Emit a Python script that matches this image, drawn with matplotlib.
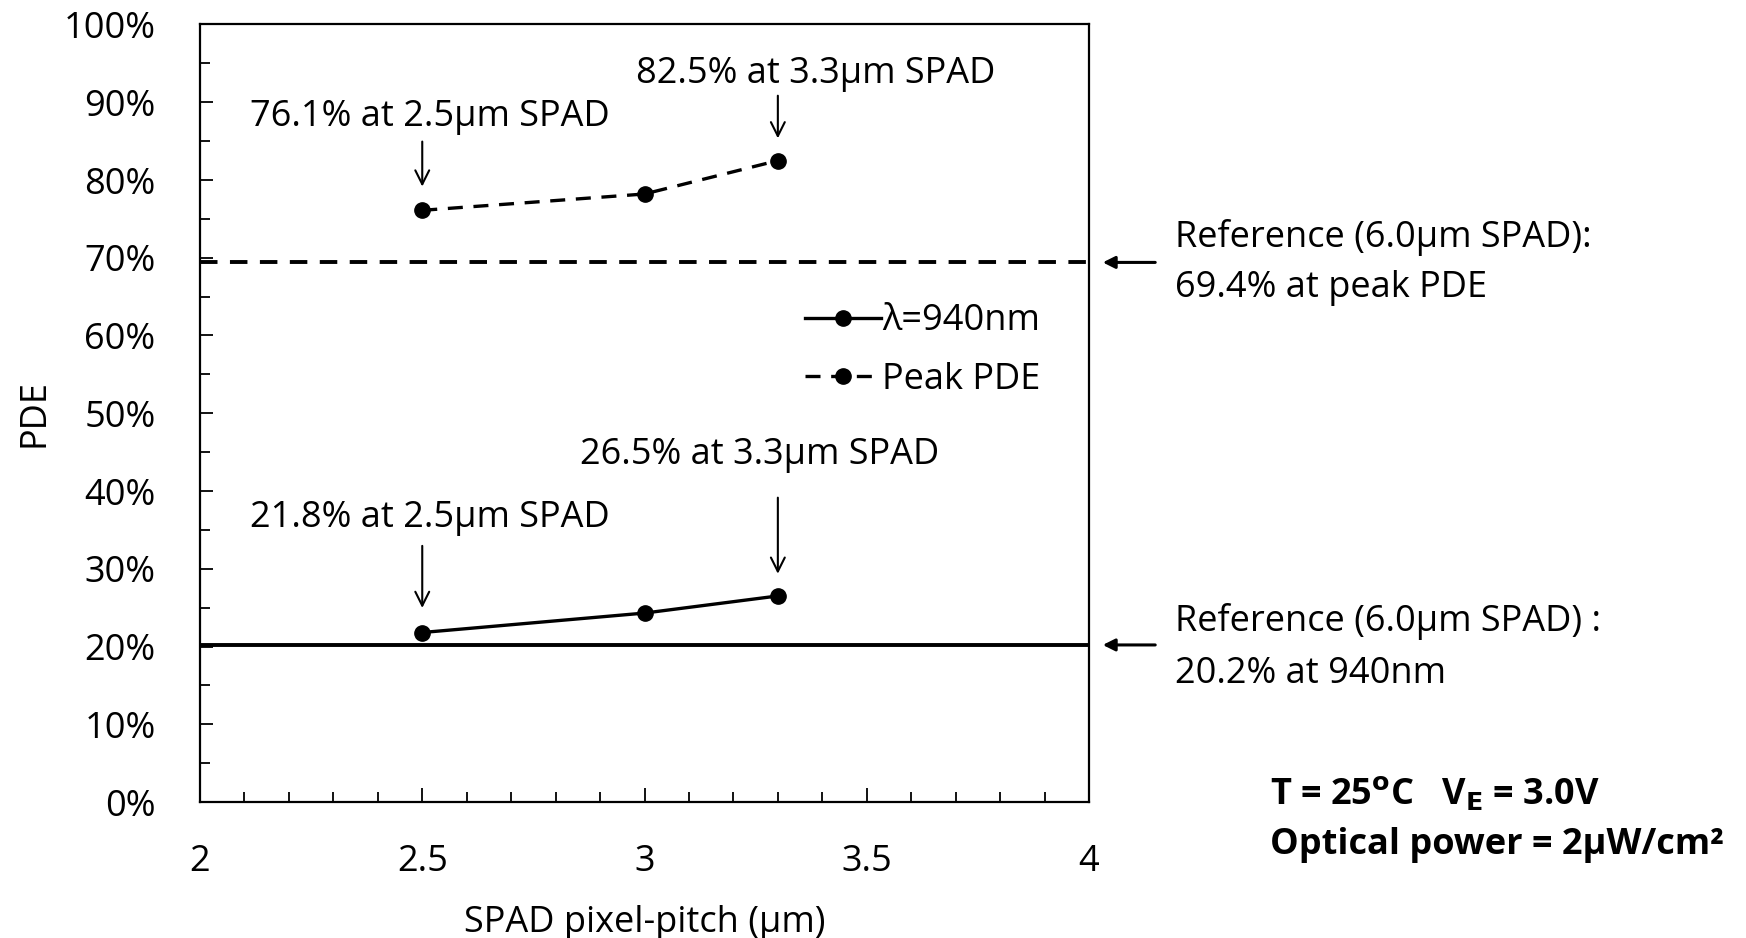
import matplotlib
matplotlib.use("Agg")
import matplotlib.pyplot as plt
from matplotlib.ticker import MultipleLocator, FuncFormatter

plt.rcParams['font.family'] = ['Open Sans', 'DejaVu Sans']

pitch = [2.5, 3.0, 3.3]
pde_940 = [21.8, 24.3, 26.5]
pde_peak = [76.1, 78.2, 82.5]
ref_940 = 20.2
ref_peak = 69.4

x_ticks = [2, 2.5, 3, 3.5, 4]
y_ticks = [0, 10, 20, 30, 40, 50, 60, 70, 80, 90, 100]

fig = plt.figure(figsize=(17.46, 9.38), dpi=100)
ax = fig.add_axes([200/1746, 1-802/938, (1089-200)/1746, (802-24.5)/938])

FS = 26

ax.axhline(ref_peak, color='black', lw=2.8, dashes=(4.5, 3.2))
ax.axhline(ref_940, color='black', lw=2.8)
ax.plot(pitch, pde_940, color='black', lw=2.4, marker='o', ms=11, label='λ=940nm')
ax.plot(pitch, pde_peak, color='black', lw=2.4, marker='o', ms=11, dashes=(4.5, 3.2), label='Peak PDE')

ax.set_xlim(2, 4)
ax.set_ylim(0, 100)
ax.set_xticks(x_ticks)
ax.set_yticks(y_ticks)
ax.xaxis.set_minor_locator(MultipleLocator(0.1))
ax.yaxis.set_minor_locator(MultipleLocator(5))
ax.xaxis.set_major_formatter(FuncFormatter(lambda v, p: f"{v:g}"))
ax.yaxis.set_major_formatter(FuncFormatter(lambda v, p: f"{v:.0f}%"))
ax.tick_params(axis='both', which='both', direction='in', width=1.3, labelsize=FS)
ax.tick_params(axis='x', which='major', length=10, pad=30)
ax.tick_params(axis='x', which='minor', length=7)
ax.tick_params(axis='y', which='major', length=9, pad=32)
ax.tick_params(axis='y', which='minor', length=7)
for s in ax.spines.values():
    s.set_linewidth(1.6)

ax.set_xlabel('SPAD pixel-pitch (µm)', fontsize=FS, labelpad=18)
ax.set_ylabel('PDE', fontsize=FS, labelpad=8)

leg = ax.legend(loc='upper left', bbox_to_anchor=(0.664, 0.66), frameon=False,
                fontsize=FS, handlelength=2.1, handletextpad=0.05, labelspacing=0.62,
                borderaxespad=0)

arrow_kw = dict(arrowstyle='->', color='black', lw=1.5, mutation_scale=25)
annots = [
    ("76.1% at 2.5µm SPAD", 2.5, 76.1, 2.113, 88.1, 85.3, 78.8),
    ("82.5% at 3.3µm SPAD", 3.3, 82.5, 2.98, 93.6, 91.2, 85.0),
    ("26.5% at 3.3µm SPAD", 3.3, 26.5, 2.855, 44.6, 39.5, 29.0),
    ("21.8% at 2.5µm SPAD", 2.5, 21.8, 2.113, 36.5, 33.3, 24.6),
]
for txt, xv, yv, tx, ty, y0, y1 in annots:
    ax.text(tx, ty, txt, fontsize=FS, va='center', ha='left')
    ax.annotate('', xy=(xv, y1), xytext=(xv, y0), arrowprops=arrow_kw)

# right side annotations in figure pixels
def fx(px):
    return px / 1746
def fy(py):
    return 1 - py / 938

ref_arrow = dict(arrowstyle='-|>', color='black', lw=2.2, mutation_scale=18)
for yv in (ref_peak, ref_940):
    yf = ax.transData.transform((0, yv))[1] / 938
    ax.annotate('', xy=(fx(1100), yf), xytext=(fx(1158), yf),
                xycoords='figure fraction', textcoords='figure fraction', arrowprops=ref_arrow)

fig.text(fx(1175), fy(237), 'Reference (6.0µm SPAD):', fontsize=FS, va='center', ha='left')
fig.text(fx(1175), fy(288), f'{ref_peak}% at peak PDE', fontsize=FS, va='center', ha='left')
fig.text(fx(1175), fy(622), 'Reference (6.0µm SPAD) :', fontsize=FS, va='center', ha='left')
fig.text(fx(1175), fy(674), f'{ref_940}% at 940nm', fontsize=FS, va='center', ha='left')

fig.text(fx(1270), fy(794), r'T = 25$^{\mathbf{o}}$C   V$_{\mathbf{E}}$ = 3.0V', fontsize=FS,
         fontweight='bold', va='center', ha='left')
fig.text(fx(1270), fy(845), 'Optical power = 2µW/cm²', fontsize=FS,
         fontweight='bold', va='center', ha='left')

fig.savefig('out.png', dpi=100)
